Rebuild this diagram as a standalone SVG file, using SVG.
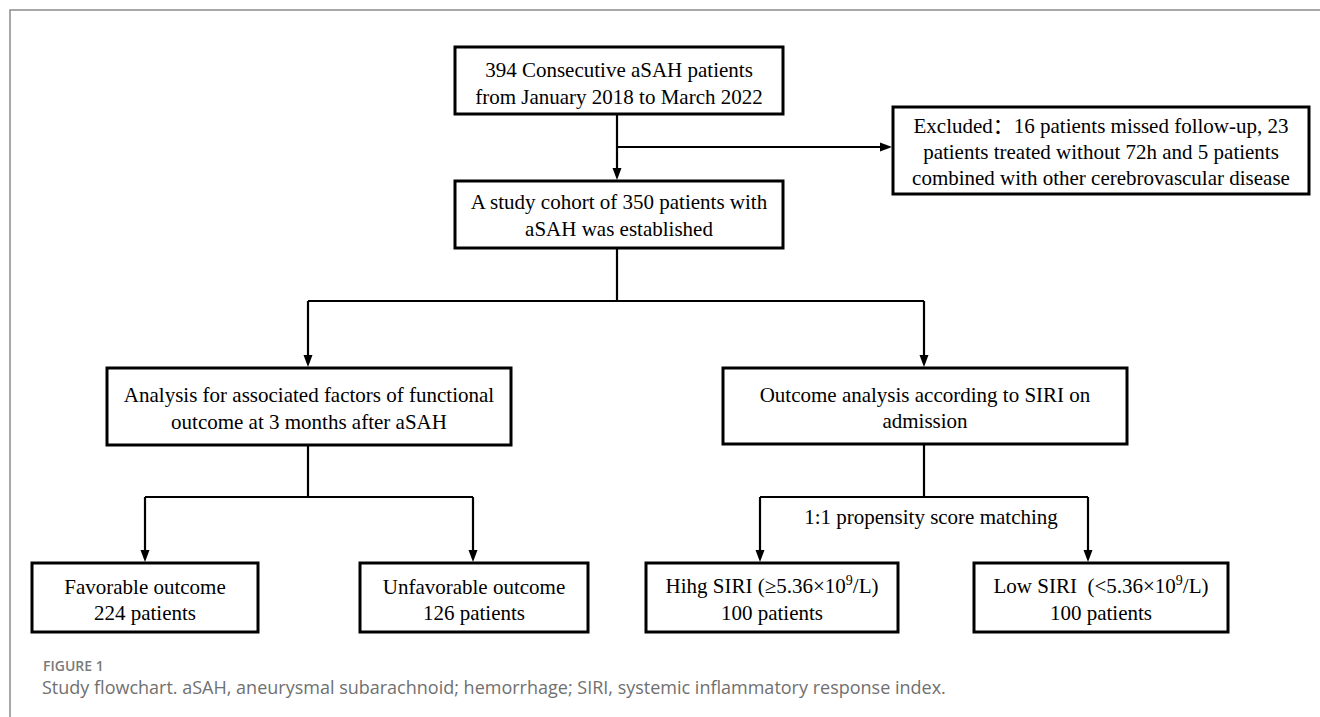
<svg xmlns="http://www.w3.org/2000/svg" width="1320" height="717" viewBox="0 0 1320 717">
<defs>
<style>
.box{fill:#fff;stroke:#000;stroke-width:3}
.t{font-family:"Liberation Serif","Noto Sans CJK SC",serif;font-size:21px;fill:#000;text-anchor:middle}
.c{fill:none;stroke:#000;stroke-width:2.2}
.frame{fill:none;stroke:#8c8c8c;stroke-width:1.5}
.figlab{font-family:"Open Sans","Noto Sans",sans-serif;font-size:14px;font-weight:600;fill:#7a7a7a}
.cap{font-family:"Open Sans","Noto Sans",sans-serif;font-size:18px;fill:#707070}
</style>
<marker id="ah" markerUnits="userSpaceOnUse" markerWidth="12" markerHeight="12" viewBox="0 0 12 12" refX="8" refY="6" orient="auto">
<path d="M0,1.5 L12,6 L0,10.5 z" fill="#000"/>
</marker>
</defs>
<rect width="1320" height="717" fill="#fff"/>
<path class="frame" d="M10,717 V10 H1320"/>

<g id="connectors">
<path class="c" d="M617,114 V176" marker-end="url(#ah)"/>
<path class="c" d="M617,147 H888" marker-end="url(#ah)"/>
<path class="c" d="M617,248 V301"/>
<path class="c" d="M308,301 H924"/>
<path class="c" d="M308,301 V363" marker-end="url(#ah)"/>
<path class="c" d="M924,301 V363" marker-end="url(#ah)"/>
<path class="c" d="M308,445 V497"/>
<path class="c" d="M145,497 H473"/>
<path class="c" d="M145,497 V558" marker-end="url(#ah)"/>
<path class="c" d="M473,497 V558" marker-end="url(#ah)"/>
<path class="c" d="M924,444 V497"/>
<path class="c" d="M760,497 H1088"/>
<path class="c" d="M760,497 V558" marker-end="url(#ah)"/>
<path class="c" d="M1088,497 V558" marker-end="url(#ah)"/>
<text class="t" x="931" y="524">1:1 propensity score matching</text>
</g>

<g id="n-consecutive">
<rect class="box" x="455" y="47" width="328" height="67"/>
<text class="t" x="619" y="77">394 Consecutive aSAH patients</text>
<text class="t" x="619" y="104">from January 2018 to March 2022</text>
</g>

<g id="n-excluded">
<rect class="box" x="893" y="107" width="416" height="87"/>
<text class="t" x="1101" y="133">Excluded：16 patients missed follow-up, 23</text>
<text class="t" x="1101" y="159">patients treated without 72h and 5 patients</text>
<text class="t" x="1101" y="185">combined with other cerebrovascular disease</text>
</g>

<g id="n-cohort">
<rect class="box" x="455" y="181" width="328" height="67"/>
<text class="t" x="619" y="209">A study cohort of 350 patients with</text>
<text class="t" x="619" y="236">aSAH was established</text>
</g>

<g id="n-analysis">
<rect class="box" x="107" y="368" width="404" height="77"/>
<text class="t" x="309" y="402">Analysis for associated factors of functional</text>
<text class="t" x="309" y="429">outcome at 3 months after aSAH</text>
</g>

<g id="n-outcome">
<rect class="box" x="723" y="368" width="404" height="76"/>
<text class="t" x="925" y="402">Outcome analysis according to SIRI on</text>
<text class="t" x="925" y="428">admission</text>
</g>

<g id="n-favorable">
<rect class="box" x="32" y="563" width="226" height="69"/>
<text class="t" x="145" y="594">Favorable outcome</text>
<text class="t" x="145" y="620">224 patients</text>
</g>

<g id="n-unfavorable">
<rect class="box" x="360" y="563" width="228" height="69"/>
<text class="t" x="474" y="594">Unfavorable outcome</text>
<text class="t" x="474" y="620">126 patients</text>
</g>

<g id="n-high">
<rect class="box" x="646" y="563" width="252" height="69"/>
<text class="t" x="772" y="593">Hihg SIRI (≥5.36×10<tspan font-size="14" dy="-8">9</tspan><tspan dy="8">/L)</tspan></text>
<text class="t" x="772" y="620">100 patients</text>
</g>

<g id="n-low">
<rect class="box" x="974" y="563" width="254" height="69"/>
<text class="t" x="1101" y="593">Low SIRI&#160; (&lt;5.36×10<tspan font-size="14" dy="-8">9</tspan><tspan dy="8">/L)</tspan></text>
<text class="t" x="1101" y="620">100 patients</text>
</g>

<text class="figlab" x="43" y="671">FIGURE 1</text>
<text class="cap" x="42" y="694">Study flowchart. aSAH, aneurysmal subarachnoid; hemorrhage; SIRI, systemic inflammatory response index.</text>
</svg>
